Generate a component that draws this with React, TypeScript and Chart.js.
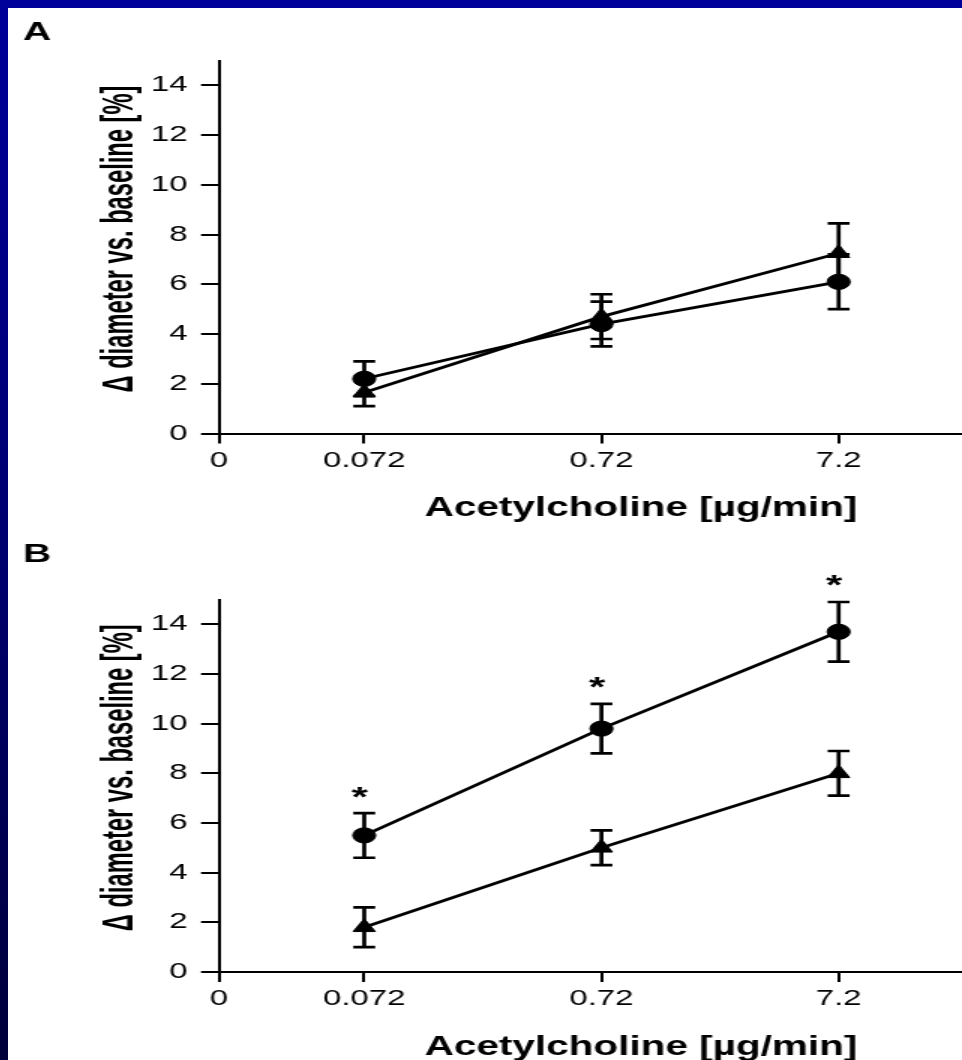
import React, { useEffect, useRef } from "react";
import { Chart, registerables } from "chart.js";

Chart.register(...registerables);

// ---------- data ----------
const doses = [0.072, 0.72, 7.2];
const xTickValues = [0, 0.072, 0.72, 7.2];
const xTickLabels = ["0", "0.072", "0.72", "7.2"];

const panelACircle = [2.2, 4.4, 6.1];
const panelACircleErr = [0.7, 0.9, 1.1];
const panelATriangle = [1.65, 4.7, 7.25];
const panelATriangleErr = [0.55, 0.9, 1.2];

const panelBCircle = [5.5, 9.8, 13.7];
const panelBCircleErr = [0.9, 1.0, 1.2];
const panelBTriangle = [1.8, 5.0, 8.0];
const panelBTriangleErr = [0.8, 0.7, 0.9];
const panelBSignificant = [true, true, true];

const xTitle = "Acetylcholine [µg/min]";
const yTitle = "Δ diameter vs. baseline [%]";

// ---------- layout ----------
const STRETCH = 1.5;
const CANVAS_W = 692;
const ZERO_GAP = 0.612; // decades between "0" and first dose on the axis
const xPos = (v: number) => (v === 0 ? Math.log10(doses[0]) - ZERO_GAP : Math.log10(v));
const X_MIN = Math.log10(doses[0]) - ZERO_GAP;
const X_MAX = Math.log10(doses[2]) + 0.814;

const SANS = "'Liberation Sans', Arial, Helvetica, sans-serif";
const NARROW = "'Liberation Sans Narrow', 'Arial Narrow', 'Liberation Sans', sans-serif";
const CAP = 7.3;
const X_TITLE_CX = 422; // unstretched px
const X_TITLE_DROP = 82.5; // baseline below x axis
const Y_TITLE_BASE_X = 83.3;
const Y_TITLE_LEN = 307;
const Y_TITLE_SHIFT = -8;

const annotate = {
  id: "annotate",
  beforeDatasetsDraw(chart: any) {
    const { ctx } = chart;
    const ys = chart.scales.y;
    ctx.save();
    ctx.strokeStyle = "#000";
    ctx.lineWidth = 2.7;
    chart.data.datasets.forEach((ds: any, i: number) => {
      if (!ds.errors) return;
      const meta = chart.getDatasetMeta(i);
      meta.data.forEach((pt: any, j: number) => {
        const v = ds.data[j].y;
        const e = ds.errors[j];
        const x = pt.x;
        const yt = ys.getPixelForValue(v + e);
        const yb = ys.getPixelForValue(v - e);
        ctx.beginPath();
        ctx.moveTo(x, yt);
        ctx.lineTo(x, yb);
        ctx.moveTo(x - CAP, yt);
        ctx.lineTo(x + CAP, yt);
        ctx.moveTo(x - CAP, yb);
        ctx.lineTo(x + CAP, yb);
        ctx.stroke();
      });
    });
    ctx.restore();
  },
  afterDraw(chart: any, _args: any, opts: any) {
    const { ctx, chartArea } = chart;
    const ys = chart.scales.y;
    ctx.save();
    ctx.fillStyle = "#000";
    ctx.textAlign = "left";
    ctx.textBaseline = "alphabetic";
    ctx.font = "bold 26px " + SANS;
    ctx.fillText(opts.letter, 10, opts.letterY);

    // asterisks
    ctx.font = "bold 28px " + SANS;
    ctx.textAlign = "center";
    chart.data.datasets.forEach((ds: any, i: number) => {
      if (!ds.stars) return;
      const meta = chart.getDatasetMeta(i);
      meta.data.forEach((pt: any, j: number) => {
        if (!ds.stars[j]) return;
        const top = ys.getPixelForValue(ds.data[j].y + ds.errors[j]);
        ctx.fillText("*", pt.x - 3, top - 7.5);
      });
    });

    // x title
    ctx.font = "bold 27px " + SANS;
    ctx.textAlign = "center";
    ctx.fillText(xTitle, X_TITLE_CX, chartArea.bottom + X_TITLE_DROP);

    // y title
    ctx.font = "bold 29px " + NARROW;
    const w = ctx.measureText(yTitle).width;
    const cy = (chartArea.top + chartArea.bottom) / 2 + Y_TITLE_SHIFT;
    ctx.translate(Y_TITLE_BASE_X, cy);
    ctx.rotate(-Math.PI / 2);
    ctx.scale(Y_TITLE_LEN / w, 1);
    ctx.textAlign = "center";
    ctx.fillText(yTitle, 0, 0);
    ctx.restore();
  },
};

function makeChart(
  canvas: HTMLCanvasElement,
  circle: number[],
  circleErr: number[],
  tri: number[],
  triErr: number[],
  stars: boolean[] | null,
  letter: string,
  letterY: number,
  padTop: number,
  xHeight: number
) {
  const toPts = (vals: number[]) => doses.map((d, i) => ({ x: xPos(d), y: vals[i] }));
  const common = {
    borderColor: "#000",
    backgroundColor: "#000",
    borderWidth: 2.8,
    pointBorderWidth: 1,
    pointBackgroundColor: "#000",
    pointBorderColor: "#000",
    fill: false,
    tension: 0,
  };
  return new Chart(canvas, {
    type: "line",
    data: {
      datasets: [
        { ...common, data: toPts(tri), errors: triErr, pointStyle: "triangle", pointRadius: 8.5 } as any,
        { ...common, data: toPts(circle), errors: circleErr, stars, pointStyle: "circle", pointRadius: 7.6 } as any,
      ],
    },
    options: {
      responsive: false,
      animation: false,
      devicePixelRatio: 1,
      events: [],
      layout: { padding: { left: 50.7, top: padTop, right: 3, bottom: 0 } },
      plugins: {
        legend: { display: false },
        tooltip: { enabled: false },
        annotate: { letter, letterY },
      } as any,
      scales: {
        x: {
          type: "linear",
          min: X_MIN,
          max: X_MAX,
          afterBuildTicks: (axis: any) => {
            axis.ticks = xTickValues.map((v) => ({ value: xPos(v) }));
          },
          afterFit: (s: any) => {
            s.height = xHeight;
          },
          ticks: {
            autoSkip: false,
            maxRotation: 0,
            minRotation: 0,
            padding: 4,
            color: "#000",
            font: { size: 22, family: SANS },
            callback: (_v: any, i: number) => xTickLabels[i],
          },
          grid: { drawOnChartArea: false, drawTicks: true, tickLength: 10, lineWidth: 2, color: "#000" },
          border: { display: true, color: "#000", width: 2 },
          title: { display: false },
        },
        y: {
          type: "linear",
          min: 0,
          max: 15,
          afterFit: (s: any) => {
            s.width = 90;
          },
          ticks: {
            stepSize: 2,
            includeBounds: false,
            padding: 9,
            color: "#000",
            font: { size: 22, family: SANS },
          },
          grid: { drawOnChartArea: false, drawTicks: true, tickLength: 12, lineWidth: 2, color: "#000" },
          border: { display: true, color: "#000", width: 2 },
          title: { display: false },
        },
      },
    } as any,
    plugins: [annotate as any],
  });
}

export default function App() {
  const refA = useRef<HTMLCanvasElement>(null);
  const refB = useRef<HTMLCanvasElement>(null);

  useEffect(() => {
    const a = makeChart(refA.current!, panelACircle, panelACircleErr, panelATriangle, panelATriangleErr, null, "A", 32, 52.5, 112.5);
    const b = makeChart(refB.current!, panelBCircle, panelBCircleErr, panelBTriangle, panelBTriangleErr, panelBSignificant, "B", 42, 79.5, 113);
    return () => {
      a.destroy();
      b.destroy();
    };
  }, []);

  const canvasStyle = (top: number, h: number): React.CSSProperties => ({
    position: "absolute",
    left: 0,
    top,
    width: CANVAS_W,
    height: h,
    transform: `scaleX(${STRETCH})`,
    transformOrigin: "0 0",
  });

  return (
    <div
      style={{
        position: "fixed",
        left: 0,
        top: 0,
        width: 962,
        height: 1060,
        overflow: "hidden",
        background: "linear-gradient(to bottom, #00009a 0%, #00006c 55%, #00003a 100%)",
      }}
    >
      <div
        style={{
          position: "absolute",
          left: 8,
          top: 8,
          width: 954,
          height: 1052,
          background: "#fff",
          overflow: "hidden",
        }}
      >
        <canvas ref={refA} width={CANVAS_W} height={538} style={canvasStyle(0, 538)} />
        <canvas ref={refB} width={CANVAS_W} height={565} style={canvasStyle(512, 565)} />
      </div>
    </div>
  );
}
